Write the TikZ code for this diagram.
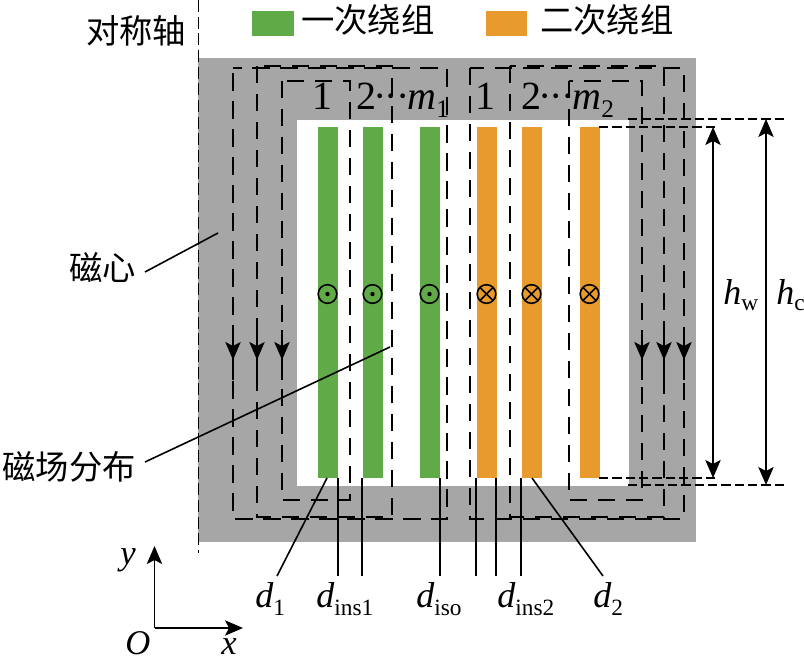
\documentclass[tikz,border=0pt]{standalone}
\usepackage{fontspec}
\setmainfont{Liberation Serif}
\newfontfamily\cjk{Noto Sans CJK SC}
\usetikzlibrary{arrows.meta}
\definecolor{coregray}{HTML}{A6A6A6}
\definecolor{primgreen}{HTML}{60AB47}
\definecolor{secorange}{HTML}{E89B2C}
\newcommand{\sublab}[3]{\textit{#1}\raisebox{#3}{\fontsize{17.5}{17.5}\selectfont #2}}
\newcommand{\turns}[1]{2\kern-2.2pt ·\kern-1.4pt ·\kern-1.4pt ·\kern-1.5pt\textit{m}\raisebox{-6pt}{\fontsize{19}{19}\selectfont #1}}
\tikzset{
  magline/.style={line width=1.1pt,dash pattern=on 13pt off 8pt},
  extline/.style={line width=1.1pt,dash pattern=on 7pt off 3pt},
  axisline/.style={line width=1.2pt,dash pattern=on 9pt off 3.5pt},
  leader/.style={line width=1.2pt},
  arrowtip/.style={line width=1.3pt,-{Stealth[length=13.5pt,width=11.5pt,inset=3pt]}},
  dimarrow/.style={line width=1.3pt,{Stealth[length=13.5pt,width=11.5pt,inset=3pt]}-{Stealth[length=13.5pt,width=11.5pt,inset=3pt]}},
  cjklab/.style={font=\cjk\fontsize{25}{25}\selectfont,inner sep=0pt},
  romanlab/.style={font=\fontsize{30}{30}\selectfont,inner sep=0pt,anchor=base west},
  symlab/.style={font=\fontsize{27}{27}\selectfont,inner sep=0pt,anchor=base west},
  axislab/.style={font=\fontsize{26}{26}\selectfont\itshape,inner sep=0pt,anchor=base west}
}
\begin{document}
\begin{tikzpicture}[x=0.75pt,y=-0.75pt]
\useasboundingbox (0,0) rectangle (804,660);
% core and window
\fill[coregray] (198,58) rectangle (696,542);
\fill[white] (297,120) rectangle (629,486);
\draw[axisline] (198.5,0)--(198.5,553);
% windings
\foreach \x in {318,363,420}{
\fill[primgreen] (\x,127) rectangle (\x+19.5,478);
}
\foreach \x in {477,522,580}{
\fill[secorange] (\x,127) rectangle (\x+19.5,478);
}
% currents
\foreach \x in {327.5,372.5,429.5}{
\draw[leader] (\x,294) circle (9.3);
\fill (\x,294) circle (2.2);
}
\foreach \x in {486.5,531.5,589.5}{
\draw[leader] (\x,294) circle (9.3);
\draw[leader] (\x-6.6,287.4)--(\x+6.6,300.6);
\draw[leader] (\x-6.6,300.6)--(\x+6.6,287.4);
}
% field loops
\foreach \xa/\xb/\ya/\yb/\ph in {282/350/81/500/0,257/392/66/517/0,233/447/68/519/17,569/642/81/500/0,510/664/66/517/0,470/684/68/519/0}{
\draw[magline,dash phase=\ph pt] (\xa,\ya) rectangle (\xb,\yb);
}
\foreach \x in {233,257,282,642,664,684}{
\draw[arrowtip] (\x,330)--(\x,360);
\draw[leader] (\x,355)--(\x,380);
}
% heights
\coordinate (wtop) at (713,127);
\coordinate (wbot) at (713,478);
\coordinate (ctop) at (766,119);
\coordinate (cbot) at (766,485);
\draw[dimarrow] (wtop)--(wbot);
\draw[dimarrow] (ctop)--(cbot);
\draw[extline] (599,127)--(719,127);
\draw[extline] (599,478)--(719,478);
\draw[extline] (628,119)--(788,119);
\draw[extline] (628,485)--(788,485);
\node[symlab] (hw) at (723,304) {\sublab{h}{w}{-5pt}};
\node[symlab] (hc) at (776,304) {\sublab{h}{c}{-5pt}};
% legend
\fill[primgreen] (252,11) rectangle (294,36);
\fill[secorange] (486,11) rectangle (527,36);
\node[cjklab,anchor=west] (prim) at (301,20) {一次绕组};
\node[cjklab,anchor=west] (sec) at (540,20) {二次绕组};
\node[cjklab,anchor=west] (axis) at (86,31) {对称轴};
% left labels
\node[cjklab,anchor=east] (corelab) at (136,268) {磁心};
\node[cjklab,anchor=east] (fieldlab) at (136,467) {磁场分布};
\coordinate (corefrom) at (145,272);
\coordinate (coreto) at (218,233);
\coordinate (fieldfrom) at (145,462);
\coordinate (fieldto) at (390,347);
\draw[leader] (corefrom)--(coreto);
\draw[leader] (fieldfrom)--(fieldto);
% turn numbers
\node[romanlab] (pa) at (312,109) {1};
\node[romanlab] (pb) at (356,109) {\turns{1}};
\node[romanlab] (sa) at (475,109) {1};
\node[romanlab] (sb) at (521,109) {\turns{2}};
% thickness leaders
\foreach \n/\xa/\xb in {a/327/277,b/338/338,c/362/362,d/440/440,e/476/476,f/496/496,g/521/521,h/532/603}{
\coordinate (up\n) at (\xa,478);
\coordinate (low\n) at (\xb,576);
\draw[leader] (up\n)--(low\n);
}
\node[symlab] (done) at (255,607) {\sublab{d}{1}{-6.5pt}};
\node[symlab] (dinsa) at (316,607) {\sublab{d}{ins1}{-6.5pt}};
\node[symlab] (diso) at (416,607) {\sublab{d}{iso}{-6.5pt}};
\node[symlab] (dinsb) at (497,607) {\sublab{d}{ins2}{-6.5pt}};
\node[symlab] (dtwo) at (593,607) {\sublab{d}{2}{-6.5pt}};
% axes
\coordinate (orig) at (154.5,628);
\coordinate (ytip) at (154.5,546);
\coordinate (xtip) at (243,628);
\draw[arrowtip] (orig)--(ytip);
\draw[arrowtip] (orig)--(xtip);
\node[axislab] (ylab) at (120,564) {y};
\node[axislab] (xlab) at (221,654) {x};
\node[axislab] (olab) at (125,654) {O};
\end{tikzpicture}
\end{document}
